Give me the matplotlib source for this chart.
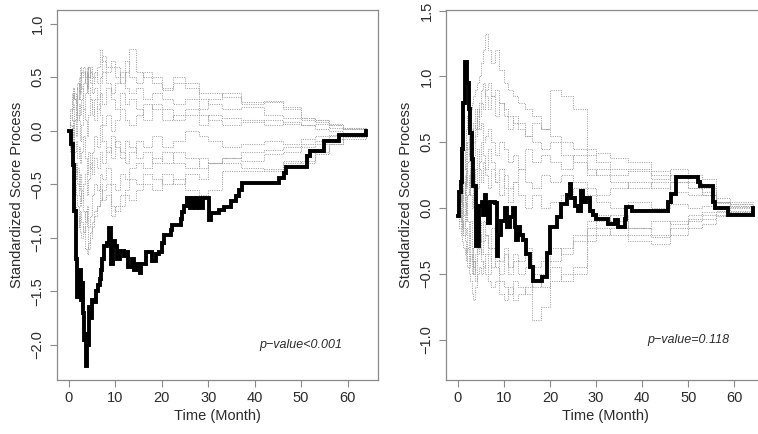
import numpy as np
import matplotlib
matplotlib.use("Agg")
import matplotlib.pyplot as plt

plt.rcParams['font.family'] = ['Liberation Sans', 'DejaVu Sans']

# ---------------- data: left panel ----------------
left_obs_t = [0, 0.4, 0.8, 1.2, 1.5, 1.8, 2.0, 2.2, 2.4, 2.6, 2.8, 3.0, 3.3, 3.6, 3.8, 4.0,
              4.2, 4.4, 4.7, 5.0, 5.4, 5.8, 6.2, 6.6, 6.9, 7.2, 7.6, 8.3, 8.7, 9.0, 9.4,
              10.0, 10.4, 11.1, 11.8, 12.5, 12.8, 13.6, 14.0, 14.7, 15.3, 15.5, 16.5,
              17.8, 18.7, 19.4, 20.1, 20.5, 21.9, 22.3, 24.1, 24.4, 24.8, 25.5, 26.0,
              26.7, 27.2, 27.6, 28.3, 28.8, 30.1, 30.5, 32.3, 33.5, 34.8, 35.9, 36.6,
              37.3, 45.2, 46.3, 46.8, 51.3, 52.0, 54.9, 58.1, 63.9, 64.0]
left_obs_v = [0.0, -0.12, -0.32, -0.75, -1.2, -1.55, -1.35, -1.5, -1.3, -1.58, -1.42,
              -1.7, -1.95, -2.2, -2.05, -1.9, -2.0, -1.65, -1.75, -1.58, -1.6, -1.5,
              -1.44, -1.38, -1.3, -1.2, -1.08, -1.05, -0.91, -1.24, -1.03, -1.08, -1.2,
              -1.12, -1.17, -1.13, -1.27, -1.2, -1.3, -1.24, -1.33, -1.24, -1.13,
              -1.22, -1.15, -1.13, -1.05, -0.97, -0.93, -0.88, -0.82, -0.76, -0.70,
              -0.63, -0.72, -0.63, -0.72, -0.63, -0.72, -0.63, -0.83, -0.77, -0.74,
              -0.71, -0.66, -0.61, -0.55, -0.49, -0.44, -0.39, -0.34, -0.24, -0.19,
              -0.10, -0.04, 0.0, 0.0]

sim_t = [0, 0.3, 0.6, 0.9, 1.2, 1.5, 1.8, 2.1, 2.4, 2.7, 3.0, 3.4, 3.8, 4.2, 4.6, 5.0,
         5.5, 6.0, 6.6, 7.2, 8.0, 9.0, 10.0, 11.0, 12.0, 13.0, 14.5, 16.0, 18.0, 20.0,
         22.5, 25.0, 28.0, 30.0, 33.0, 37.0, 42.0, 46.0, 50.0, 53.0, 56.0, 59.0, 64.0]

left_sim_a = [0, 0.15, 0.3, 0.4, 0.3, 0.25, 0.4, 0.5, 0.6, 0.5, 0.55, 0.5, 0.6, 0.5, 0.55, 0.45, 0.5, 0.6, 0.75, 0.65, 0.55, 0.6, 0.5, 0.45, 0.55, 0.76, 0.55, 0.5, 0.45, 0.38, 0.45, 0.45, 0.35, 0.35, 0.32, 0.27, 0.27, 0.2, 0.12, 0.08, 0.05, 0.03, 0.03]
left_sim_b = [0, -0.2, -0.3, -0.5, -0.7, -0.85, -0.9, -0.8, -0.95, -1.0, -0.9, -1.1, -1.15, -1.05, -0.95, -0.85, -0.75, -0.7, -0.65, -0.55, -0.5, -0.8, -0.7, -0.6, -0.55, -0.45, -0.5, -0.4, -0.45, -0.5, -0.45, -0.55, -0.6, -0.55, -0.38, -0.38, -0.36, -0.3, -0.28, -0.2, -0.12, -0.08, -0.05]
left_sim_c = [0, 0.1, 0.2, 0.25, 0.1, 0.2, 0.3, 0.45, 0.35, 0.55, 0.6, 0.45, 0.35, 0.5, 0.6, 0.5, 0.55, 0.45, 0.5, 0.7, 0.6, 0.65, 0.6, 0.5, 0.65, 0.5, 0.45, 0.55, 0.5, 0.4, 0.5, 0.4, 0.3, 0.25, 0.2, 0.22, 0.15, 0.12, 0.1, 0.1, 0.05, 0.02, 0.0]
left_sim_d = [0, -0.1, 0.05, -0.1, 0.1, -0.05, 0.15, 0.1, -0.1, 0.05, 0.2, 0.1, -0.05, 0.15, 0.3, 0.2, 0.1, 0.25, 0.15, 0.05, 0.15, 0.0, 0.1, 0.2, 0.1, 0.05, 0.15, 0.25, 0.2, 0.1, 0.15, 0.2, 0.15, 0.1, 0.05, 0.08, 0.1, 0.06, 0.05, 0.02, 0.0, -0.02, 0.0]
left_sim_e = [0, -0.15, -0.25, -0.35, -0.45, -0.3, -0.5, -0.6, -0.7, -0.55, -0.75, -0.85, -0.7, -0.9, -0.8, -0.6, -0.5, -0.55, -0.4, -0.45, -0.35, -0.5, -0.55, -0.4, -0.45, -0.35, -0.3, -0.35, -0.25, -0.3, -0.2, -0.25, -0.35, -0.3, -0.25, -0.2, -0.18, -0.15, -0.12, -0.1, -0.05, -0.03, -0.02]
left_sim_f = [0, 0.2, 0.35, 0.3, 0.35, 0.15, 0.45, 0.3, 0.5, 0.4, 0.2, 0.35, 0.55, 0.4, 0.3, 0.15, 0.3, 0.2, 0.35, 0.25, 0.4, 0.3, 0.2, 0.35, 0.25, 0.3, 0.2, 0.1, 0.25, 0.2, 0.1, 0.15, 0.05, 0.15, 0.12, 0.1, 0.05, 0.08, 0.05, 0.06, 0.03, 0.02, 0.01]
left_sim_g = [0, -0.05, -0.2, -0.15, -0.3, -0.45, -0.35, -0.55, -0.4, -0.65, -0.5, -0.4, -0.6, -0.45, -0.3, -0.4, -0.25, -0.35, -0.2, -0.3, -0.15, -0.25, -0.1, -0.2, -0.3, -0.2, -0.1, -0.15, -0.05, -0.15, -0.1, 0.0, -0.05, -0.1, -0.15, -0.12, -0.1, -0.12, -0.08, -0.05, -0.04, -0.03, -0.02]
left_sim_h = [0, 0.05, -0.1, 0.1, -0.2, -0.1, -0.25, -0.15, -0.3, -0.2, -0.05, -0.25, -0.4, -0.2, -0.35, -0.2, -0.05, -0.15, 0.05, -0.1, -0.2, -0.05, -0.15, -0.25, -0.1, -0.15, -0.25, -0.2, -0.3, -0.2, -0.3, -0.35, -0.25, -0.3, -0.25, -0.28, -0.22, -0.2, -0.15, -0.12, -0.08, -0.05, -0.03]
left_sim_i = [0, 0.1, 0.25, 0.4, 0.3, 0.2, 0.1, 0.25, 0.15, 0.3, 0.45, 0.55, 0.4, 0.6, 0.45, 0.35, 0.4, 0.3, 0.45, 0.55, 0.45, 0.35, 0.45, 0.55, 0.4, 0.35, 0.4, 0.3, 0.35, 0.3, 0.25, 0.3, 0.2, 0.3, 0.35, 0.25, 0.28, 0.22, 0.12, 0.1, 0.06, 0.03, 0.02]
left_sim_j = [0, -0.2, -0.1, -0.3, -0.5, -0.6, -0.7, -0.9, -0.75, -0.85, -0.95, -0.75, -0.9, -1.1, -1.0, -0.9, -0.8, -0.7, -0.5, -0.65, -0.6, -0.7, -0.75, -0.7, -0.6, -0.65, -0.55, -0.5, -0.55, -0.4, -0.5, -0.4, -0.45, -0.3, -0.3, -0.35, -0.38, -0.28, -0.3, -0.22, -0.12, -0.06, -0.04]

# ---------------- data: right panel ----------------
right_obs_t = [0, 0.3, 0.6, 0.9, 1.2, 1.6, 2.1, 2.4, 2.7, 3.0, 3.4, 4.0, 4.5, 4.7, 5.2,
               5.5, 5.9, 6.2, 6.6, 6.9, 8.0, 8.46, 8.8, 9.3, 10.2, 10.6, 11.3, 11.9,
               12.4, 12.7, 13.1, 13.4, 14.2, 14.9, 15.6, 16.4, 18.2, 19.3, 20.1, 21.5,
               22.5, 23.6, 24.3, 24.6, 25.4, 26.1, 26.8, 27.2, 27.9, 28.6, 29.4, 30.1,
               32.6, 34.1, 34.8, 36.2, 36.6, 37.7, 45.3, 45.6, 46.3, 47.4, 51.4, 52.1,
               52.5, 54.7, 55.4, 55.8, 58.3, 58.6, 64.0]
right_obs_v = [-0.06, 0.12, 0.2, 0.45, 0.8, 1.11, 0.95, 0.75, 0.57, 0.37, 0.17, -0.29,
               -0.27, 0.015, 0.05, -0.05, 0.1, 0.04, -0.11, 0.05, 0.04, -0.36, -0.20,
               -0.10, 0.0, -0.14, -0.07, 0.0, -0.14, -0.24, -0.14, -0.2, -0.24, -0.35,
               -0.45, -0.55, -0.52, -0.34, -0.14, -0.07, 0.03, 0.1, 0.18, 0.08, 0.02,
               -0.02, 0.13, 0.05, 0.08, -0.02, -0.05, -0.08, -0.12, -0.09, -0.14,
               -0.08, 0.01, -0.02, -0.02, 0.05, 0.11, 0.24, 0.24, 0.2, 0.17, 0.17,
               0.05, 0.0, 0.0, -0.05, 0.0]

right_sim_a = [0, 0.05, 0.1, 0.2, 0.3, 0.45, 0.6, 0.7, 0.65, 0.75, 0.8, 0.85, 0.9, 0.95, 1.0, 1.1, 1.2, 1.32, 1.2, 1.1, 1.2, 1.05, 0.95, 0.9, 0.85, 0.8, 0.75, 0.7, 0.6, 0.55, 0.5, 0.45, 0.4, 0.42, 0.38, 0.35, 0.25, 0.3, 0.25, 0.22, 0.08, 0.05, 0.04]
right_sim_b = [0, -0.15, -0.2, -0.25, -0.3, -0.35, -0.3, -0.45, -0.5, -0.55, -0.65, -0.7, -0.6, -0.5, -0.45, -0.5, -0.4, -0.5, -0.55, -0.6, -0.55, -0.65, -0.7, -0.6, -0.7, -0.65, -0.6, -0.85, -0.75, -0.55, -0.5, -0.45, -0.25, -0.2, -0.15, -0.2, -0.22, -0.15, -0.1, -0.08, -0.05, -0.03, -0.03]
right_sim_c = [0, 0.1, 0.2, 0.3, 0.4, 0.3, 0.5, 0.45, 0.6, 0.55, 0.5, 0.65, 0.6, 0.75, 0.7, 0.8, 0.75, 0.9, 0.95, 0.85, 0.9, 0.8, 0.75, 0.7, 0.65, 0.6, 0.55, 0.65, 0.6, 0.9, 0.85, 0.75, 0.45, 0.35, 0.3, 0.3, 0.28, 0.2, 0.15, 0.1, 0.05, 0.03, 0.02]
right_sim_d = [0, -0.05, 0.05, 0.1, -0.05, 0.2, 0.3, 0.2, 0.1, 0.3, 0.2, 0.4, 0.55, 0.7, 0.6, 0.65, 0.5, 0.55, 0.6, 0.5, 0.4, 0.5, 0.45, 0.35, 0.4, 0.3, 0.45, 0.35, 0.4, 0.35, 0.3, 0.4, 0.3, 0.25, 0.2, 0.15, 0.2, 0.12, 0.1, 0.12, 0.05, 0.02, 0.01]
right_sim_e = [0, -0.1, -0.15, -0.1, -0.2, -0.25, -0.4, -0.3, -0.45, -0.35, -0.5, -0.4, -0.55, -0.3, -0.2, -0.35, -0.25, -0.2, -0.35, -0.45, -0.4, -0.55, -0.6, -0.65, -0.55, -0.6, -0.65, -0.5, -0.6, -0.45, -0.55, -0.5, -0.2, -0.15, -0.2, -0.25, -0.27, -0.2, -0.15, -0.12, -0.06, -0.03, -0.02]
right_sim_f = [0, 0.05, 0.15, 0.0, 0.2, 0.1, 0.3, 0.5, 0.4, 0.2, 0.35, 0.2, 0.3, 0.45, 0.3, 0.2, 0.35, 0.25, 0.15, 0.3, 0.2, 0.1, 0.25, 0.15, 0.2, 0.3, 0.2, 0.15, 0.25, 0.2, 0.25, 0.2, 0.15, 0.1, 0.15, 0.2, 0.15, 0.2, 0.15, 0.1, 0.04, 0.03, 0.03]
right_sim_g = [0, 0.0, -0.1, 0.05, -0.15, -0.05, 0.1, -0.1, -0.2, -0.1, -0.3, -0.45, -0.35, -0.2, -0.1, -0.25, -0.1, -0.2, -0.3, -0.15, -0.25, -0.4, -0.3, -0.45, -0.35, -0.4, -0.3, -0.45, -0.4, -0.3, -0.35, -0.25, -0.15, -0.1, -0.05, -0.15, -0.1, -0.12, -0.05, -0.03, -0.02, 0.0, 0.0]
right_sim_h = [0, 0.1, 0.05, 0.2, 0.1, 0.25, 0.15, 0.35, 0.55, 0.4, 0.6, 0.5, 0.75, 0.6, 0.8, 0.9, 0.95, 0.85, 0.75, 0.85, 0.7, 0.8, 0.7, 0.6, 0.7, 0.65, 0.55, 0.5, 0.45, 0.5, 0.4, 0.35, 0.25, 0.3, 0.25, 0.28, 0.22, 0.25, 0.2, 0.15, 0.05, 0.02, 0.02]
right_sim_i = [0, -0.1, -0.05, -0.2, -0.1, -0.2, -0.15, -0.3, -0.2, -0.4, -0.3, -0.5, -0.4, -0.35, -0.3, -0.4, -0.45, -0.35, -0.5, -0.3, -0.45, -0.5, -0.35, -0.5, -0.4, -0.5, -0.45, -0.6, -0.5, -0.4, -0.3, -0.2, -0.1, -0.05, -0.1, -0.15, -0.2, -0.1, -0.08, -0.05, -0.03, -0.02, -0.01]
right_sim_j = [0, 0.05, 0.1, -0.05, 0.15, 0.05, -0.1, 0.1, 0.25, 0.1, 0.0, 0.15, 0.3, 0.15, 0.35, 0.5, 0.4, 0.3, 0.45, 0.35, 0.2, 0.3, 0.15, 0.05, 0.2, 0.1, 0.0, 0.1, 0.0, 0.05, 0.1, 0.15, 0.1, 0.05, 0.0, 0.05, 0.0, 0.03, 0.0, 0.02, 0.0, 0.01, 0.0]

x_ticks = [0, 10, 20, 30, 40, 50, 60]
left_y_ticks = [-2.0, -1.5, -1.0, -0.5, 0.0, 0.5, 1.0]
right_y_ticks = [-1.0, -0.5, 0.0, 0.5, 1.0, 1.5]
x_label = "Time (Month)"
y_label = "Standardized Score Process"
left_p_text = "p\u2212value<0.001"
right_p_text = "p\u2212value=0.118"

left_sims = [left_sim_a, left_sim_b, left_sim_c, left_sim_d, left_sim_e,
             left_sim_f, left_sim_g, left_sim_h, left_sim_i, left_sim_j]
right_sims = [right_sim_a, right_sim_b, right_sim_c, right_sim_d, right_sim_e,
              right_sim_f, right_sim_g, right_sim_h, right_sim_i, right_sim_j]

# ---------------- drawing ----------------
W, H = 758, 434
fig = plt.figure(figsize=(W / 100, H / 100), dpi=100)

TEXT = '#2b2b2b'
SPINE = '#8a8a8a'


def panel(rect, obs_t, obs_v, sims, yticks, ylim, ptext, pxy):
    ax = fig.add_axes(rect)
    for s in sims:
        ax.step(sim_t, s, where='post', color='#a3a3a3', lw=0.75,
                linestyle=(0, (1, 1.2)), zorder=2)
    ax.step(obs_t, obs_v, where='post', color='black', lw=2.8, zorder=3,
            solid_joinstyle='miter')
    ax.set_xlim(-2.56, 66.56)
    ax.set_ylim(*ylim)
    ax.set_xticks(x_ticks)
    ax.set_yticks(yticks)
    ax.set_yticklabels([f"{v:.1f}".replace('-', '\u2212') for v in yticks],
                       rotation=90, va='center')
    ax.tick_params(direction='out', length=5, width=0.8, color=SPINE,
                   labelsize=10.5, labelcolor=TEXT)
    ax.tick_params(axis='x', pad=3)
    ax.tick_params(axis='y', pad=4)
    for sp in ax.spines.values():
        sp.set_color(SPINE)
        sp.set_linewidth(0.9)
    ax.set_xlabel(x_label, fontsize=10.5, color=TEXT)
    ax.set_ylabel(y_label, fontsize=10.5, color=TEXT)
    axw = rect[2] * W
    axh = rect[3] * H
    ax.yaxis.set_label_coords(-33 / axw, 0.5)
    ax.xaxis.set_label_coords(0.5, -29 / axh)
    ax.text(pxy[0], pxy[1], ptext, fontsize=9, style='italic', color=TEXT,
            ha='center', va='center')
    return ax


left_rect = [57 / W, 1 - 380 / H, 321 / W, 370 / H]
right_rect = [446 / W, 1 - 380 / H, 318.5 / W, 370 / H]

panel(left_rect, left_obs_t, left_obs_v, left_sims, left_y_ticks,
      (-2.328, 1.128), left_p_text, (50, -2.0))
panel(right_rect, right_obs_t, right_obs_v, right_sims, right_y_ticks,
      (-1.304, 1.504), right_p_text, (50, -1.0))

fig.savefig('out.png', dpi=100)
